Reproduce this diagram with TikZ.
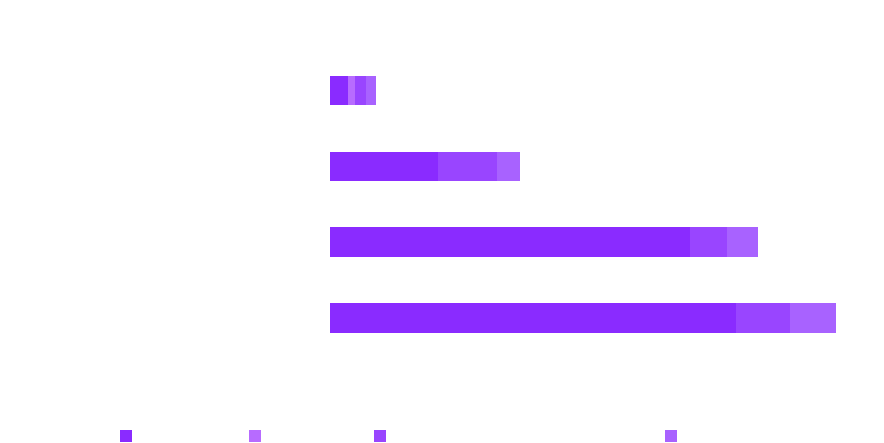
\documentclass[tikz,border=0pt]{standalone}
\usepackage{tikz}
\definecolor{segA}{HTML}{8A2BFF}
\definecolor{segB}{HTML}{B76BFF}
\definecolor{segC}{HTML}{9945FF}
\definecolor{segD}{HTML}{A862FF}
\begin{document}
\begin{tikzpicture}[x=1pt,y=-1pt]
	\tikzset{bar/.style={draw=white, line width=0.4pt}}
	\tikzset{key/.style={draw=none}}

	\useasboundingbox (0,0) rectangle (884,443);

	% Row 1
	\fill [bar, segA] (330,76) rectangle (348,104);
	\fill [bar, segB] (348,76) rectangle (355,104);
	\fill [bar, segC] (355,76) rectangle (366,104);
	\fill [bar, segD] (366,76) rectangle (375,104);

	% Row 2
	\fill [bar, segA] (330,152) rectangle (438,180);
	\fill [bar, segC] (438,152) rectangle (497,180);
	\fill [bar, segD] (497,152) rectangle (519,180);

	% Row 3
	\fill [bar, segA] (330,227) rectangle (690,256);
	\fill [bar, segC] (690,227) rectangle (727,256);
	\fill [bar, segD] (727,227) rectangle (757,256);

	% Row 4
	\fill [bar, segA] (330,303) rectangle (736,332);
	\fill [bar, segC] (736,303) rectangle (790,332);
	\fill [bar, segD] (790,303) rectangle (835,332);

	% Legend
	\fill [key, segA] (120,430) rectangle (132,442);
	\fill [key, segB] (249,430) rectangle (261,442);
	\fill [key, segC] (374,430) rectangle (386,442);
	\fill [key, segD] (665,430) rectangle (677,442);

\end{tikzpicture}
\end{document}
